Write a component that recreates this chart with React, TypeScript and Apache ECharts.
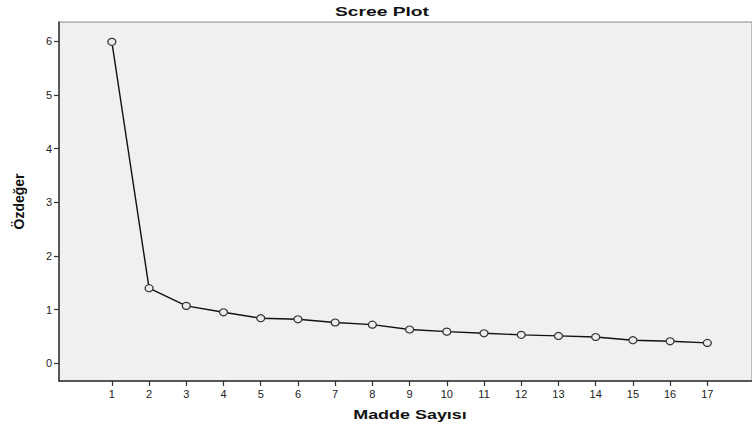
import React, { useEffect, useRef } from "react";
import * as echarts from "echarts";

const components = [1, 2, 3, 4, 5, 6, 7, 8, 9, 10, 11, 12, 13, 14, 15, 16, 17];
const eigenvalues = [5.99, 1.4, 1.07, 0.95, 0.84, 0.82, 0.76, 0.72, 0.63, 0.59, 0.56, 0.53, 0.51, 0.49, 0.43, 0.41, 0.38];
const yTicks = [0, 1, 2, 3, 4, 5, 6];
const title = "Scree Plot";
const xName = "Madde Sayısı";
const yName = "Özdeğer";

export default function App() {
  const ref = useRef<HTMLDivElement>(null);
  useEffect(() => {
    if (!ref.current) return;
    const chart = echarts.init(ref.current, null, { renderer: "svg" });
    const font = "Liberation Sans, Arial, sans-serif";
    chart.setOption({
      animation: false,
      graphic: [
        {
          type: "text",
          x: 382,
          y: 11,
          scaleX: 1.48,
          style: {
            text: title,
            align: "center",
            verticalAlign: "middle",
            fontFamily: font,
            fontSize: 13,
            fontWeight: "bold",
            fill: "#111",
          },
        },
        {
          type: "text",
          x: 410,
          y: 414,
          scaleX: 1.38,
          style: {
            text: xName,
            align: "center",
            verticalAlign: "middle",
            fontFamily: font,
            fontSize: 13,
            fontWeight: "bold",
            fill: "#111",
          },
        },
      ],
      grid: {
        left: 59,
        top: 22,
        right: 0,
        bottom: 49,
        show: true,
        backgroundColor: "#f0f0f0",
        borderColor: "#8a8a8a",
        borderWidth: 1,
      },
      xAxis: {
        type: "value",
        min: -0.42,
        max: 18.2,
        axisLine: { show: true, onZero: false, lineStyle: { color: "#333", width: 1.5 } },
        axisTick: { show: true, length: 5, customValues: components, lineStyle: { color: "#333", width: 1.2 } },
        axisLabel: { customValues: components, margin: 7, fontFamily: font, fontSize: 11, color: "#222" },
        splitLine: { show: false },
      },
      yAxis: {
        type: "value",
        min: -0.33,
        max: 6.36,
        name: yName,
        nameLocation: "middle",
        nameGap: 33,
        nameTextStyle: { fontFamily: font, fontSize: 14, fontWeight: "bold", color: "#111" },
        axisLine: { show: true, onZero: false, lineStyle: { color: "#333", width: 1.5 } },
        axisTick: { show: true, length: 5, customValues: yTicks, lineStyle: { color: "#333", width: 1.2 } },
        axisLabel: { customValues: yTicks, margin: 7, fontFamily: font, fontSize: 11, color: "#222" },
        splitLine: { show: false },
      },
      series: [
        {
          type: "line",
          data: components.map((c, i) => [c, eigenvalues[i]]),
          symbol: "circle",
          symbolSize: [8, 7],
          lineStyle: { color: "#111", width: 1.4 },
          itemStyle: { color: "#ececec", borderColor: "#333", borderWidth: 1.2 },
          z: 3,
        },
      ],
    });
    return () => chart.dispose();
  }, []);
  return (
    <div
      ref={ref}
      style={{ position: "absolute", left: 0, top: 0, width: 752, height: 430, background: "#fff" }}
    />
  );
}
